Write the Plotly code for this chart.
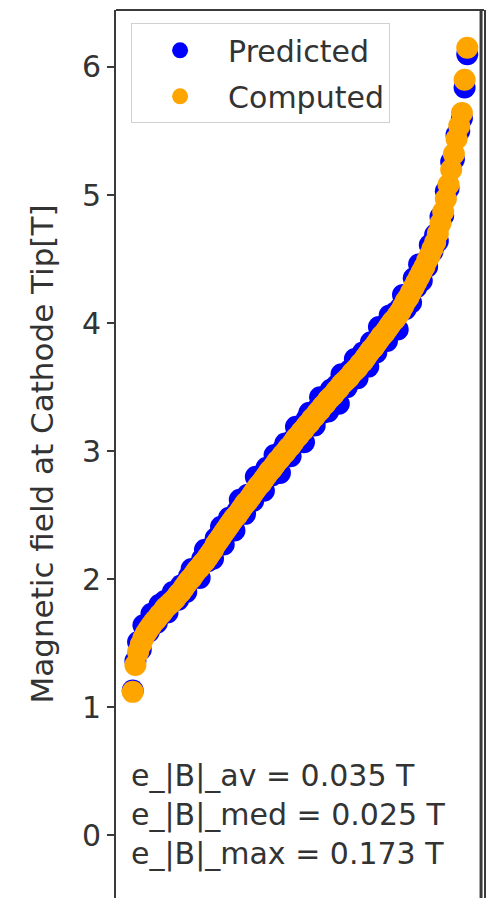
import plotly.graph_objects as go

# Sorted sample index and field values
computed = [1.12, 1.33, 1.43, 1.49, 1.54, 1.58, 1.61, 1.64, 1.67, 1.69,
            1.72, 1.74, 1.77, 1.79, 1.81, 1.83, 1.85, 1.88, 1.90, 1.93,
            1.96, 1.99, 2.01, 2.04, 2.07, 2.09, 2.12, 2.14, 2.17, 2.20,
            2.23, 2.27, 2.30, 2.33, 2.36, 2.39, 2.42, 2.45, 2.48, 2.50,
            2.53, 2.56, 2.59, 2.61, 2.64, 2.67, 2.70, 2.73, 2.75, 2.78,
            2.81, 2.84, 2.86, 2.89, 2.92, 2.94, 2.97, 2.99, 3.02, 3.04,
            3.07, 3.10, 3.12, 3.15, 3.17, 3.20, 3.22, 3.25, 3.27, 3.30,
            3.32, 3.35, 3.37, 3.40, 3.42, 3.44, 3.47, 3.49, 3.52, 3.54,
            3.56, 3.58, 3.61, 3.63, 3.65, 3.68, 3.70, 3.73, 3.76, 3.79,
            3.81, 3.84, 3.87, 3.90, 3.92, 3.95, 3.98, 4.01, 4.03, 4.06,
            4.09, 4.13, 4.17, 4.20, 4.24, 4.28, 4.32, 4.36, 4.40, 4.44,
            4.49, 4.53, 4.58, 4.63, 4.70, 4.78, 4.87, 4.97, 5.08, 5.20,
            5.32, 5.44, 5.54, 5.64, 5.90, 6.15]

predicted = [1.13, 1.36, 1.51, 1.45, 1.64, 1.61, 1.59, 1.73, 1.71, 1.66,
             1.80, 1.76, 1.83, 1.74, 1.84, 1.90, 1.86, 1.84, 1.95, 1.95,
             1.90, 2.02, 2.08, 2.02, 2.08, 2.01, 2.16, 2.23, 2.14, 2.22,
             2.16, 2.32, 2.29, 2.41, 2.27, 2.41, 2.48, 2.41, 2.38, 2.53,
             2.62, 2.54, 2.51, 2.66, 2.65, 2.61, 2.80, 2.70, 2.77, 2.69,
             2.87, 2.85, 2.81, 2.97, 2.90, 2.83, 3.01, 3.06, 2.99, 2.96,
             3.09, 3.19, 3.08, 3.16, 3.07, 3.25, 3.30, 3.23, 3.20, 3.33,
             3.42, 3.30, 3.39, 3.31, 3.48, 3.43, 3.51, 3.37, 3.60, 3.56,
             3.50, 3.63, 3.58, 3.72, 3.57, 3.69, 3.77, 3.69, 3.66, 3.85,
             3.83, 3.77, 3.97, 3.87, 3.96, 3.86, 4.06, 3.99, 4.08, 3.95,
             4.12, 4.22, 4.11, 4.22, 4.16, 4.35, 4.28, 4.46, 4.33, 4.47,
             4.44, 4.61, 4.56, 4.69, 4.64, 4.83, 4.84, 5.03, 5.05, 5.26,
             5.28, 5.47, 5.50, 5.60, 5.84, 6.10]

sample_index = list(range(len(computed)))

y_ticks = [0, 1, 2, 3, 4, 5, 6]
y_title = "Magnetic field at Cathode Tip[T]"
stats_lines = ["e_|B|_av = 0.035 T", "e_|B|_med = 0.025 T", "e_|B|_max = 0.173 T"]

FONT = "DejaVu Sans, Liberation Sans, sans-serif"
TXT = "#333333"
FS = 30
FRAME = "#3a3a3a"

fig = go.Figure()
fig.add_trace(go.Scatter(
    x=sample_index, y=predicted, mode="markers", name="Predicted",
    legendgroup="p",
    marker=dict(color="#0000ff", size=22, line=dict(width=0)),
))
fig.add_trace(go.Scatter(
    x=sample_index, y=computed, mode="markers", name="Computed",
    legendgroup="c",
    marker=dict(color="#ffa500", size=22, line=dict(width=0)),
))

n = len(computed) - 1
fig.update_xaxes(
    range=[-0.05 * n, 1.05 * n], showgrid=False, zeroline=False,
    showticklabels=False, ticks="",
    showline=False,
)
fig.update_yaxes(
    range=[-0.49, 6.445], tickvals=y_ticks, showgrid=False, zeroline=False,
    ticks="outside", ticklen=7, tickwidth=2, tickcolor=FRAME,
    showline=True, linecolor=FRAME, linewidth=2, mirror=True,
    tickfont=dict(family=FONT, size=FS, color=TXT),
    title=dict(text=y_title, font=dict(family=FONT, size=31, color=TXT), standoff=19),
)

# top and right sides of the axes frame (bottom edge is cut off in the reference)
fig.add_shape(type="line", xref="paper", yref="paper", x0=0, x1=1, y0=1, y1=1,
              line=dict(color=FRAME, width=2), layer="above")
fig.add_shape(type="line", xref="paper", yref="paper", x0=0.992, x1=0.992, y0=0, y1=1,
              line=dict(color=FRAME, width=3), layer="above")

fig.add_annotation(
    text="<br>".join(stats_lines), xref="paper", yref="paper",
    x=0.035, y=0.027, xanchor="left", yanchor="bottom", align="left",
    showarrow=False, font=dict(family=FONT, size=FS, color=TXT),
)

fig.update_layout(
    width=493, height=898,
    margin=dict(l=116, r=9, t=10, b=0),
    paper_bgcolor="white", plot_bgcolor="white",
    showlegend=True,
    legend=dict(
        x=0.041, y=0.985, xanchor="left", yanchor="top",
        bgcolor="rgba(255,255,255,0.85)", bordercolor="#d0d0d0", borderwidth=1,
        font=dict(family=FONT, size=FS, color=TXT),
        traceorder="grouped", tracegroupgap=4, itemwidth=86,
    ),
)

fig.write_html(
    "out.html",
    config={"displayModeBar": False},
    post_script="document.body.style.margin='0';document.body.style.overflow='hidden';",
)
